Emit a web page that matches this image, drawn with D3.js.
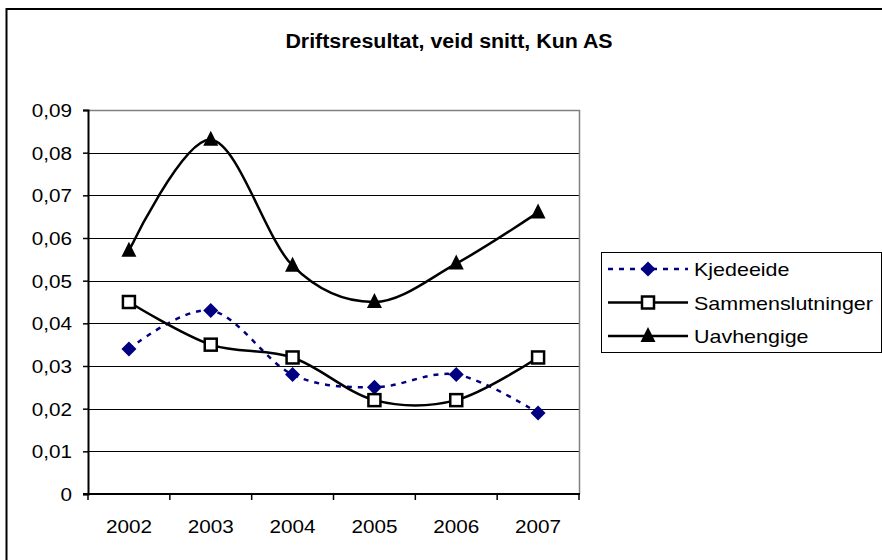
<!DOCTYPE html>
<html>
<head>
<meta charset="utf-8">
<script src="https://cdn.jsdelivr.net/npm/d3@7"></script>
<style>
  body { margin: 0; background: #fff; }
  text { font-family: Arial, 'Liberation Sans', sans-serif; fill: #000; }
</style>
</head>
<body>
<div id="chart"></div>
<script>
let years = ['2002', '2003', '2004', '2005', '2006', '2007']
let kjedeeide = [0.034, 0.043, 0.028, 0.025, 0.028, 0.019]
let sammenslutninger = [0.045, 0.035, 0.032, 0.022, 0.022, 0.032]
let uavhengige = [0.057, 0.083, 0.0535, 0.045, 0.054, 0.066]
let yTicks = [0, 0.01, 0.02, 0.03, 0.04, 0.05, 0.06, 0.07, 0.08, 0.09]
let seriesNames = ['Kjedeeide', 'Sammenslutninger', 'Uavhengige']

let width = 882
let height = 560
let plotLeft = 88
let plotRight = 579
let plotTop = 110
let plotBottom = 494
let stretch = 1.09

let svg = d3
  .select('#chart')
  .append('svg')
  .attr('width', width)
  .attr('height', height)

// frame of the chart (right/bottom cut off in the picture)
svg
  .append('rect')
  .attr('x', 6.5)
  .attr('y', 9)
  .attr('width', width + 20)
  .attr('height', height + 20)
  .attr('fill', '#fff')
  .attr('stroke', '#000')
  .attr('stroke-width', 2)

let x = d3.scaleBand().domain(years).range([plotLeft, plotRight])
let y = d3.scaleLinear().domain([0, 0.09]).range([plotBottom, plotTop])
let cx = d => x(d) + x.bandwidth() / 2

// stretched text, the source picture is a bit wider than tall
function label (g, tx, ty, str, size, anchor, sx, bold) {
  return g
    .append('text')
    .attr('transform', 'translate(' + tx + ',' + ty + ')scale(' + sx + ',1)')
    .attr('text-anchor', anchor)
    .style('font-size', size + 'px')
    .style('font-weight', bold ? 'bold' : 'normal')
    .text(str)
}

label(svg, 449, 48, 'Driftsresultat, veid snitt, Kun AS', 20, 'middle', 1.07, true)

// gridlines
svg
  .append('g')
  .selectAll('line')
  .data(yTicks.slice(1))
  .enter()
  .append('line')
  .attr('x1', plotLeft)
  .attr('x2', plotRight)
  .attr('y1', d => Math.round(y(d)) + 0.5)
  .attr('y2', d => Math.round(y(d)) + 0.5)
  .attr('stroke', '#000')
  .attr('stroke-width', 1)

// plot border top/right
svg
  .append('path')
  .attr('d', 'M' + plotLeft + ',' + (plotTop + 0.5) + 'H' + (plotRight + 0.5) + 'V' + plotBottom)
  .attr('fill', 'none')
  .attr('stroke', '#808080')
  .attr('stroke-width', 1.5)

// y axis
let yAxis = svg.append('g').attr('transform', 'translate(' + plotLeft + ',0)')
yAxis.call(d3.axisLeft(y).tickValues(yTicks).tickSize(5).tickFormat(''))
yAxis.select('.domain').attr('stroke-width', 2)
yAxis.selectAll('.tick line').attr('stroke-width', 1.5)
let fmt = d => (d === 0 ? '0' : d3.format('.2f')(d).replace('.', ','))
yTicks.forEach(t => {
  label(svg, 72, y(t) + 7, fmt(t), 19, 'end', stretch, false)
})

// x axis, ticks between categories
let xAxis = svg.append('g')
xAxis
  .append('line')
  .attr('x1', plotLeft - 5)
  .attr('x2', plotRight + 1)
  .attr('y1', plotBottom)
  .attr('y2', plotBottom)
  .attr('stroke', '#000')
  .attr('stroke-width', 2)
let bounds = years.map(d => x(d)).concat([plotRight])
xAxis
  .selectAll('line.tick')
  .data(bounds)
  .enter()
  .append('line')
  .attr('class', 'tick')
  .attr('x1', d => d)
  .attr('x2', d => d)
  .attr('y1', plotBottom)
  .attr('y2', plotBottom + 6)
  .attr('stroke', '#000')
  .attr('stroke-width', 1.5)
years.forEach(d => {
  label(svg, cx(d), 533, d, 19, 'middle', stretch, false)
})

let line = d3
  .line()
  .x(d => cx(d.year))
  .y(d => y(d.value))
  .curve(d3.curveCardinal.tension(0))

let toPoints = vals => years.map((yr, i) => ({ year: yr, value: vals[i] }))

let series = [
  { name: seriesNames[0], values: kjedeeide, color: '#000080', dash: '5,6', marker: 'diamond' },
  { name: seriesNames[1], values: sammenslutninger, color: '#000', dash: null, marker: 'square' },
  { name: seriesNames[2], values: uavhengige, color: '#000', dash: null, marker: 'triangle' }
]

function drawMarker (g, type, px, py) {
  if (type === 'diamond') {
    g.append('path')
      .attr('d', 'M' + px + ',' + (py - 7.5) + 'L' + (px + 7.5) + ',' + py + 'L' + px + ',' + (py + 7.5) + 'L' + (px - 7.5) + ',' + py + 'Z')
      .attr('fill', '#000080')
  } else if (type === 'square') {
    g.append('rect')
      .attr('x', px - 6)
      .attr('y', py - 6)
      .attr('width', 12)
      .attr('height', 12)
      .attr('fill', '#fff')
      .attr('stroke', '#000')
      .attr('stroke-width', 2.5)
  } else {
    g.append('path')
      .attr('d', 'M' + px + ',' + (py - 9) + 'L' + (px + 7.5) + ',' + (py + 6) + 'L' + (px - 7.5) + ',' + (py + 6) + 'Z')
      .attr('fill', '#000')
  }
}

let seriesG = svg.append('g')
series.forEach(s => {
  let pts = toPoints(s.values)
  seriesG
    .append('path')
    .datum(pts)
    .attr('d', line)
    .attr('fill', 'none')
    .attr('stroke', s.color)
    .attr('stroke-width', 2.5)
    .attr('stroke-dasharray', s.dash)
})
series.forEach(s => {
  toPoints(s.values).forEach(p => {
    drawMarker(seriesG, s.marker, cx(p.year), y(p.value))
  })
})

// legend
let legend = svg.append('g')
legend
  .append('rect')
  .attr('x', 601.5)
  .attr('y', 252.5)
  .attr('width', 280)
  .attr('height', 100)
  .attr('fill', '#fff')
  .attr('stroke', '#000')
  .attr('stroke-width', 1)
series.forEach((s, i) => {
  let ly = 269 + i * 33.5
  legend
    .append('line')
    .attr('x1', 608)
    .attr('x2', 688)
    .attr('y1', ly)
    .attr('y2', ly)
    .attr('stroke', s.color)
    .attr('stroke-width', 2.5)
    .attr('stroke-dasharray', s.dash)
  drawMarker(legend, s.marker, 648, ly)
  label(legend, 694, ly + 7, s.name, 19, 'start', 1.13, false)
})
</script>
</body>
</html>
